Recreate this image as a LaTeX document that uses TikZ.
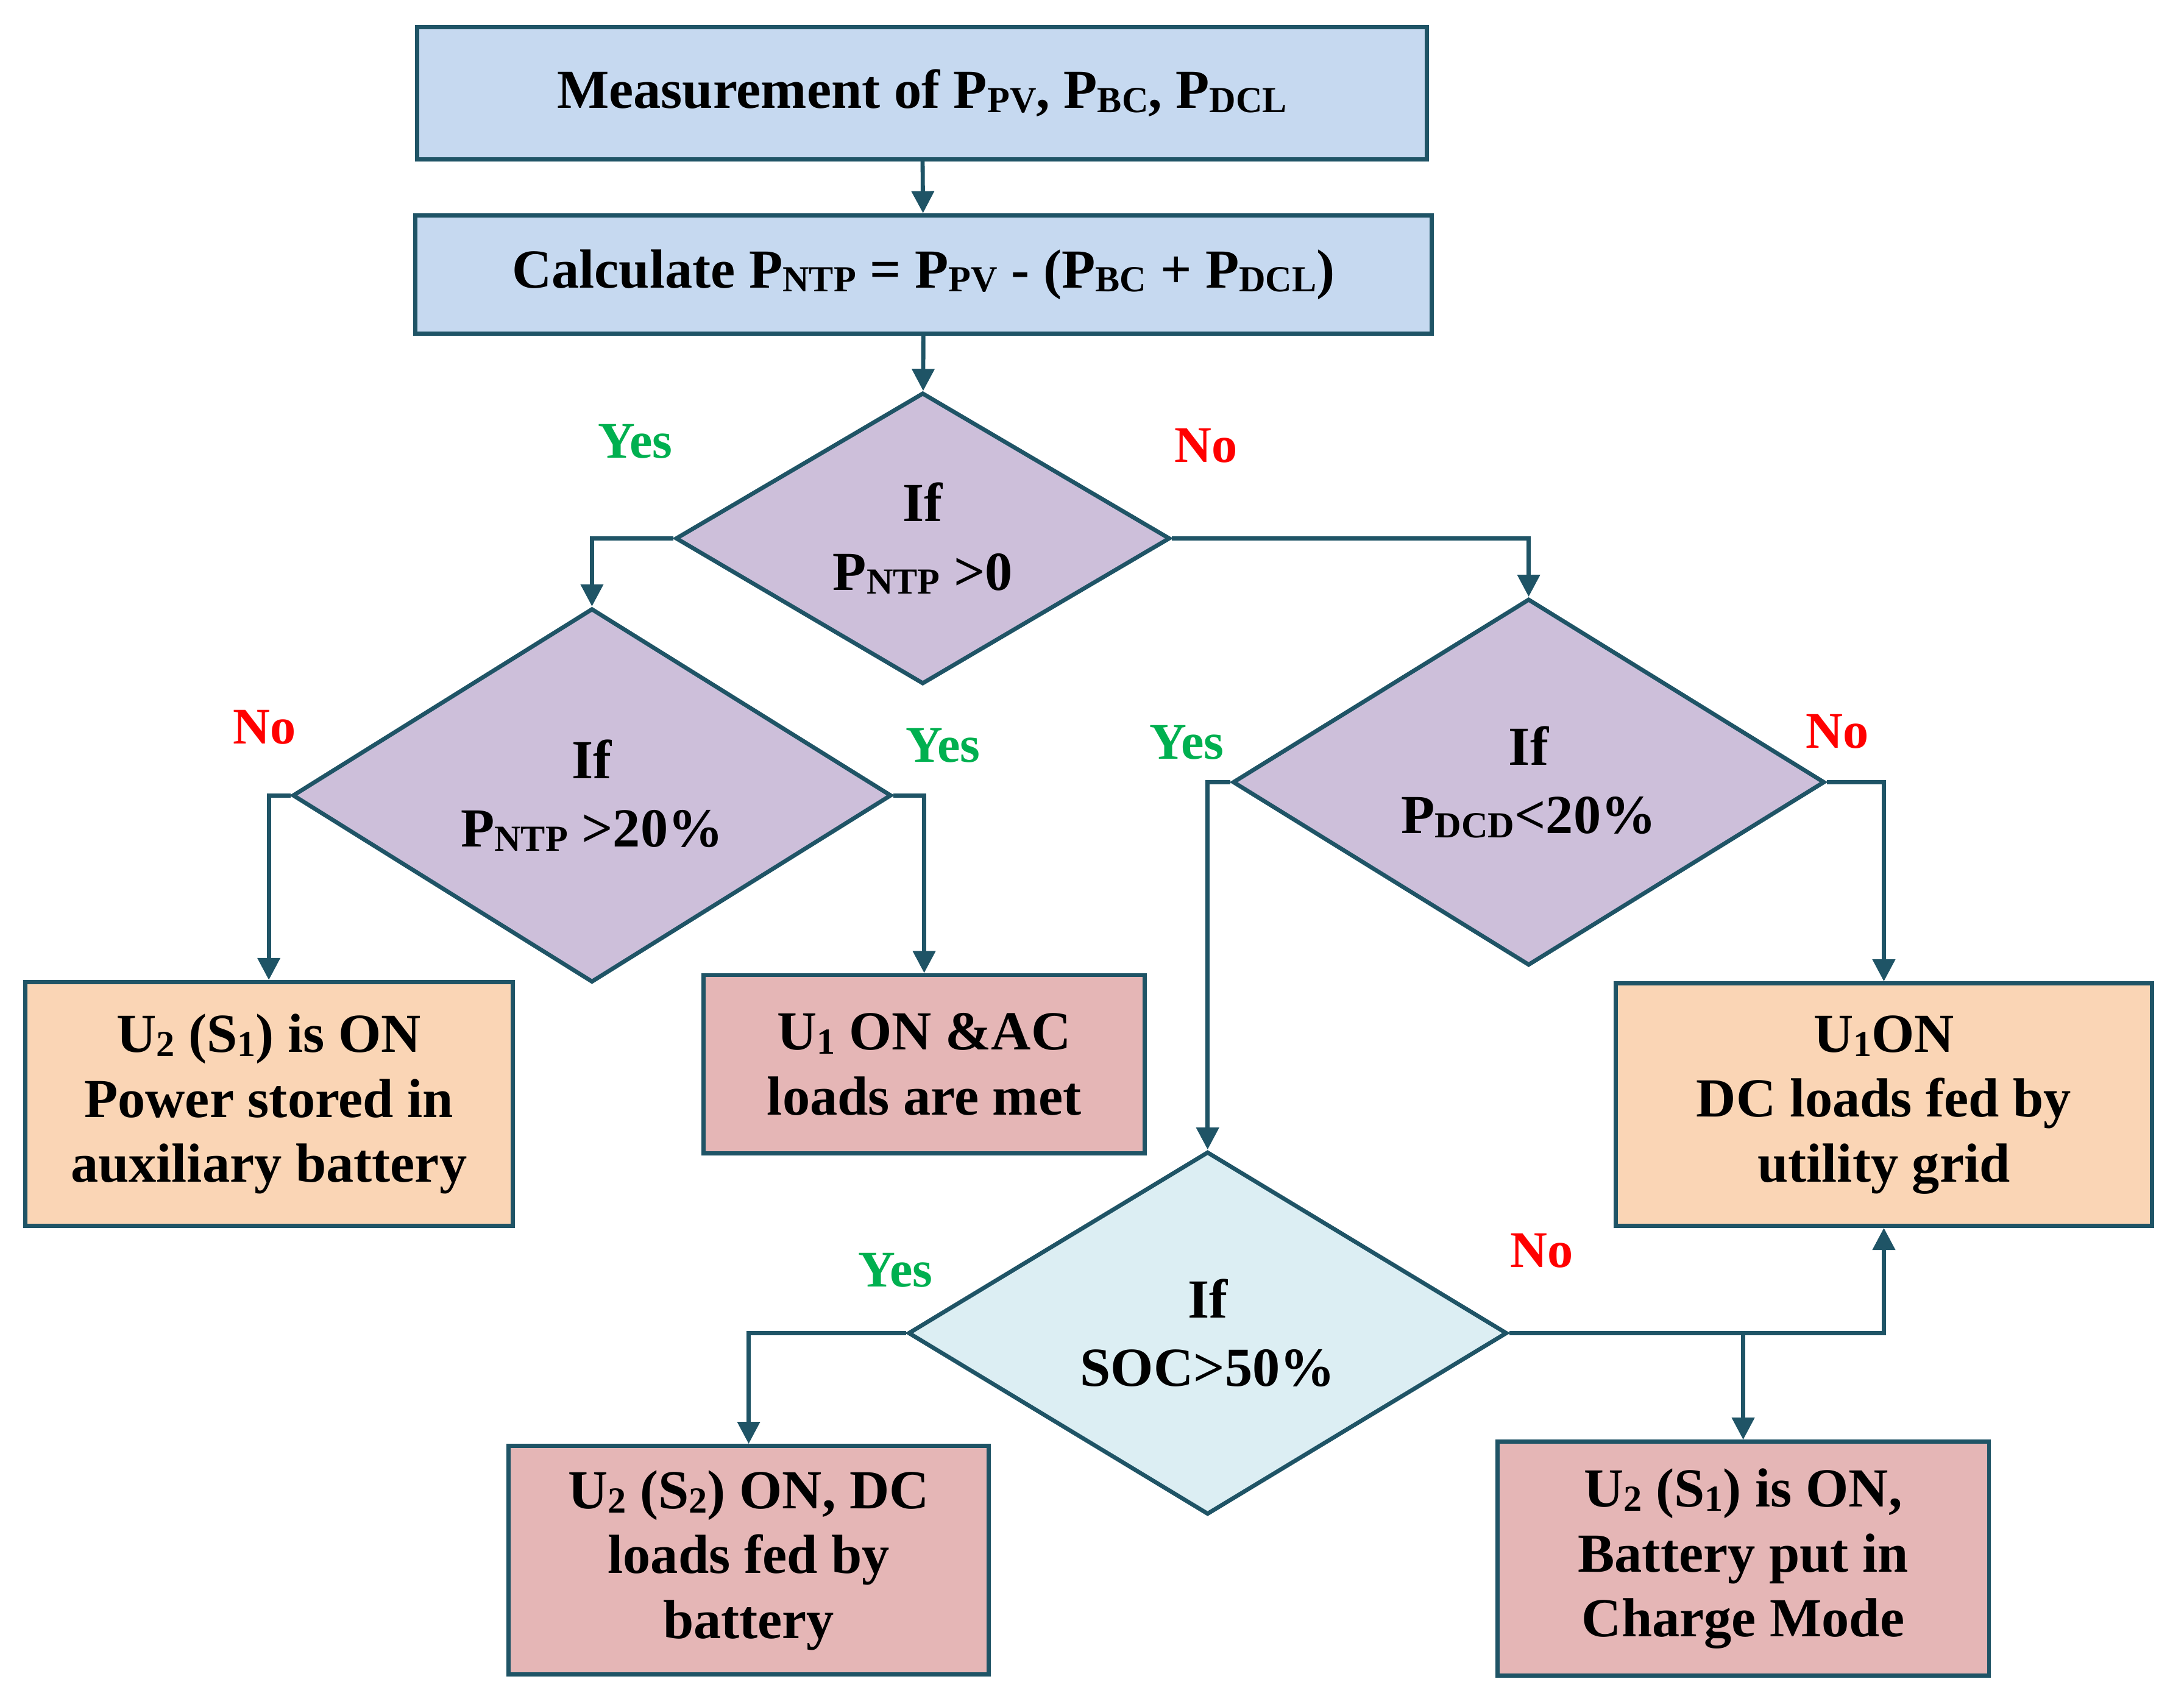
\documentclass[tikz,border=0pt]{standalone}
\usepackage{fontspec}
\setmainfont{Liberation Serif}
\usetikzlibrary{shapes.geometric,arrows.meta}
\definecolor{edge}{HTML}{1F5466}
\definecolor{blu}{HTML}{C6D9F0}
\definecolor{lil}{HTML}{CDBFDA}
\definecolor{cya}{HTML}{DCEEF3}
\definecolor{ora}{HTML}{FAD5B5}
\definecolor{pnk}{HTML}{E5B6B6}
\definecolor{yesg}{HTML}{00B050}
\newcommand{\sbs}[1]{{\fontsize{15}{15}\selectfont\raisebox{-0.25ex}{#1}}}
\tikzset{
 box/.style={draw=edge,line width=1.7pt,rectangle,align=center,font=\fontsize{22.5}{26.5}\selectfont\bfseries,inner sep=0pt},
 dia/.style={draw=edge,line width=1.7pt,diamond,align=center,font=\fontsize{22.5}{28}\selectfont\bfseries,inner sep=0pt,fill=lil},
 arr/.style={draw=edge,line width=1.7pt,-{Triangle[length=9pt,width=9pt]}},
 yes/.style={text=yesg,font=\fontsize{21}{22}\selectfont\bfseries},
 no/.style={text=red,font=\fontsize{21}{22}\selectfont\bfseries}
}
\begin{document}
\begin{tikzpicture}
\useasboundingbox[fill=white] (0,0) rectangle (31.36,-24.5);
\node[box,fill=blu,minimum width=14.5cm,minimum height=1.9cm] (b1) at (13.24,-1.34) {Measurement of P\sbs{PV}, P\sbs{BC}, P\sbs{DCL}};
\node[box,fill=blu,minimum width=14.6cm,minimum height=1.7cm] (b2) at (13.26,-3.94) {Calculate P\sbs{NTP} = P\sbs{PV} - (P\sbs{BC} + P\sbs{DCL})};
\node[dia,minimum width=7.1cm,minimum height=4.06cm] (d1) at (13.25,-7.73) {If\\P\sbs{NTP} >0};
\node[dia,minimum width=8.6cm,minimum height=4.44cm] (d2) at (8.5,-11.42) {If\\P\sbs{NTP} >20\%};
\node[dia,minimum width=8.5cm,minimum height=4.26cm] (d3) at (21.95,-11.23) {If\\P\sbs{DCD}<20\%};
\node[dia,fill=cya,minimum width=8.6cm,minimum height=5.0cm] (d4) at (17.34,-19.14) {If\\SOC>50\%};
\node[box,fill=ora,minimum width=7.0cm,minimum height=3.5cm] (bA) at (3.86,-15.85) {U\sbs{2} (S\sbs{1}) is ON\\Power stored in\\auxiliary battery};
\node[box,fill=pnk,minimum width=6.34cm,minimum height=2.56cm] (bB) at (13.27,-15.28) {U\sbs{1} ON \&AC\\loads are met};
\node[box,fill=ora,minimum width=7.7cm,minimum height=3.48cm] (bC) at (27.05,-15.86) {U\sbs{1}ON\\DC loads fed by\\utility grid};
\node[box,fill=pnk,minimum width=6.9cm,minimum height=3.28cm] (bD) at (10.75,-22.4) {U\sbs{2} (S\sbs{2}) ON, DC\\loads fed by\\battery};
\node[box,fill=pnk,minimum width=7.06cm,minimum height=3.36cm] (bE) at (25.03,-22.38) {U\sbs{2} (S\sbs{1}) is ON,\\Battery put in\\Charge Mode};
\draw[arr] (b1) -- (b2);
\draw[arr] (b2) -- (d1);
\draw[arr] (d1.west) -| (d2.north);
\draw[arr] (d1.east) -| (d3.north);
\draw[arr] (d2.west) -| (bA.north);
\draw[arr] (d2.east) -| (bB.north);
\draw[arr] (d3.west) -| (d4.north);
\draw[arr] (d3.east) -| (bC.north);
\draw[arr] (d4.west) -| (bD.north);
\draw[arr] (d4.east) -| (bC.south);
\coordinate (br) at (bE.north |- d4.east);
\draw[arr] (br) -- (bE.north);
\node[yes] (y1) at (9.12,-6.34) {Yes};
\node[no] (n1) at (17.32,-6.4) {No};
\node[no] (n2) at (3.8,-10.44) {No};
\node[yes] (y2) at (13.54,-10.7) {Yes};
\node[yes] (y3) at (17.04,-10.66) {Yes};
\node[no] (n3) at (26.38,-10.5) {No};
\node[yes] (y4) at (12.86,-18.24) {Yes};
\node[no] (n4) at (22.14,-17.96) {No};
\end{tikzpicture}
\end{document}
